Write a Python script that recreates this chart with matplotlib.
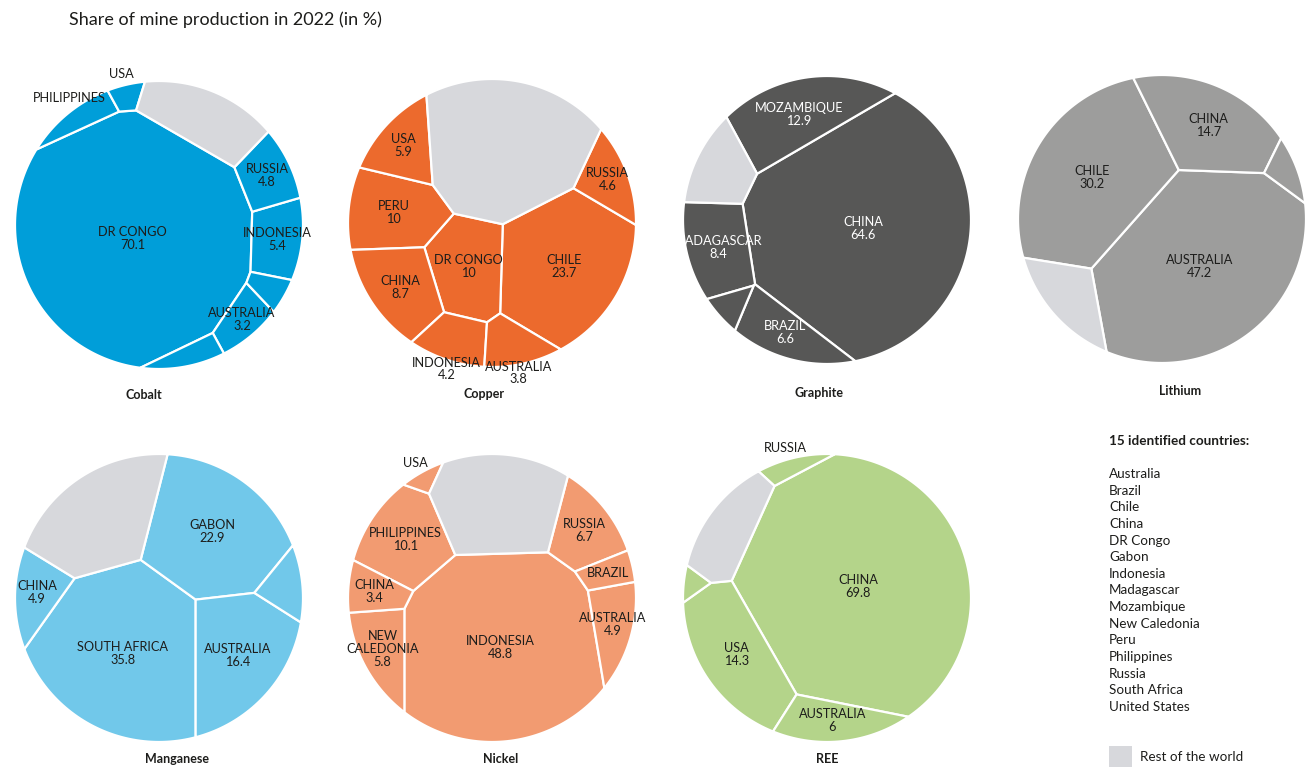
import numpy as np
import matplotlib.pyplot as plt
from matplotlib.patches import Polygon, Rectangle

plt.rcParams['font.family'] = ['Lato', 'DejaVu Sans']

# ---- data: share of 2022 mine production (%) ----
minerals = ['Cobalt', 'Copper', 'Graphite', 'Lithium', 'Manganese', 'Nickel', 'REE']

cobalt_countries = ['DR CONGO', 'INDONESIA', 'RUSSIA', 'AUSTRALIA', 'PHILIPPINES', 'USA', '', '', 'Rest of the world']
cobalt_shares = [70.1, 5.4, 4.8, 3.2, 2.4, 1.1, 1.5, 2.0, 9.5]

copper_countries = ['CHILE', 'DR CONGO', 'PERU', 'CHINA', 'USA', 'RUSSIA', 'INDONESIA', 'AUSTRALIA', 'Rest of the world']
copper_shares = [23.7, 10, 10, 8.7, 5.9, 4.6, 4.2, 3.8, 29.1]

graphite_countries = ['CHINA', 'MOZAMBIQUE', 'MADAGASCAR', 'BRAZIL', '', 'Rest of the world']
graphite_shares = [64.6, 12.9, 8.4, 6.6, 1.5, 6.0]

lithium_countries = ['AUSTRALIA', 'CHILE', 'CHINA', '', 'Rest of the world']
lithium_shares = [47.2, 30.2, 14.7, 1.8, 6.1]

manganese_countries = ['SOUTH AFRICA', 'GABON', 'AUSTRALIA', 'CHINA', '', 'Rest of the world']
manganese_shares = [35.8, 22.9, 16.4, 4.9, 3.0, 17.0]

nickel_countries = ['INDONESIA', 'PHILIPPINES', 'RUSSIA', 'NEW\nCALEDONIA', 'AUSTRALIA', 'CHINA', 'BRAZIL', 'USA', 'Rest of the world']
nickel_shares = [48.8, 10.1, 6.7, 5.8, 4.9, 3.4, 2.2, 0.8, 17.3]

ree_countries = ['CHINA', 'USA', 'AUSTRALIA', 'RUSSIA', '', 'Rest of the world']
ree_shares = [69.8, 14.3, 6, 1.5, 0.8, 7.6]

legend_countries = ['Australia', 'Brazil', 'Chile', 'China', 'DR Congo', 'Gabon', 'Indonesia', 'Madagascar',
                    'Mozambique', 'New Caledonia', 'Peru', 'Philippines', 'Russia', 'South Africa', 'United States']

# ---- layout: starting sites (unit circle), label modes, colours ----
cobalt_sites = [(-0.19, -0.10), (0.88, -0.13), (0.76, 0.28), (0.63, -0.65), (-0.57, 0.73), (-0.26, 0.90), (0.81, -0.48), (0.19, -0.89), (0.29, 0.73)]
copper_sites = [(0.47, -0.32), (-0.21, -0.30), (-0.69, 0.12), (-0.67, -0.44), (-0.58, 0.58), (0.80, 0.24), (-0.33, -0.81), (0.16, -0.84), (-0.01, 0.62)]
graphite_sites = [(0.30, -0.08), (-0.19, 0.76), (-0.80, -0.25), (-0.26, -0.81), (-0.69, -0.63), (-0.78, 0.44)]
lithium_sites = [(0.26, -0.46), (-0.53, 0.24), (0.30, 0.65), (0.87, 0.37), (-0.67, -0.63)]
manganese_sites = [(-0.17, -0.44), (0.46, 0.43), (0.56, -0.44), (-0.86, 0.05), (0.89, 0.08), (-0.48, 0.67)]
nickel_sites = [(0.03, -0.37), (-0.63, 0.40), (0.65, 0.50), (-0.78, -0.37), (0.86, -0.23), (-0.81, 0.05), (0.79, 0.15), (-0.46, 0.88), (0.0, 0.67)]
ree_sites = [(0.26, 0.01), (-0.58, -0.47), (0.08, -0.89), (-0.22, 0.92), (-0.95, 0.05), (-0.67, 0.43)]

# in = name+value inside, name = name only inside, out = name outside, out2 = name+value outside
cobalt_modes = ['in', 'in', 'in', 'in', 'out', 'out', '', '', '']
copper_modes = ['in', 'in', 'in', 'in', 'in', 'in', 'out2', 'out2', '']
graphite_modes = ['in', 'in', 'in', 'in', '', '']
lithium_modes = ['in', 'in', 'in', '', '']
manganese_modes = ['in', 'in', 'in', 'in', '', '']
nickel_modes = ['in', 'in', 'in', 'in', 'in', 'in', 'name', 'out', '']
ree_modes = ['in', 'in', 'in', 'out', '', '']

colors = ['#009ed9', '#ec6a2d', '#575756', '#9d9d9c', '#71c8ea', '#f29b71', '#b4d48a']
text_colors = ['#1d1d1b', '#1d1d1b', '#ffffff', '#1d1d1b', '#1d1d1b', '#1d1d1b', '#1d1d1b']
REST = '#d7d8dc'

centers = [(159, 225), (492, 223), (827, 220), (1162, 219), (159, 598), (492, 598), (827, 598)]
name_pos = [(144, 395), (484, 394), (819, 393), (1180, 391), (177, 759), (501, 759), (827, 759)]
R = 144
W, H = 1311, 767
LABEL_FS = 9.2


# ---- power-diagram (Voronoi treemap) inside a circle ----
def circle_poly(n=240):
    t = np.linspace(0, 2 * np.pi, n, endpoint=False)
    return np.column_stack([np.cos(t), np.sin(t)])


def clip(poly, a, b):
    # keep points p with a.p <= b
    if len(poly) == 0:
        return poly
    d = poly @ a - b
    ins = d <= 0
    if ins.all():
        return poly
    if not ins.any():
        return poly[:0]
    nxt = np.roll(poly, -1, axis=0)
    dn = np.roll(d, -1)
    cross = ins != np.roll(ins, -1)
    with np.errstate(divide='ignore', invalid='ignore'):
        t = np.where(cross, d / (d - dn), 0.0)
    ip = poly + t[:, None] * (nxt - poly)
    pts = np.stack([poly, ip], axis=1).reshape(-1, 2)
    keep = np.stack([ins, cross], axis=1).reshape(-1)
    return pts[keep]


def power_cells(sites, w, base):
    sq = (sites ** 2).sum(1) - w
    cells = []
    for i in range(len(sites)):
        poly = base
        for j in range(len(sites)):
            if i != j:
                poly = clip(poly, 2 * (sites[j] - sites[i]), sq[j] - sq[i])
                if len(poly) == 0:
                    break
        cells.append(poly)
    return cells


def area_centroid(poly):
    if len(poly) < 3:
        return 0.0, np.zeros(2)
    x, y = poly[:, 0], poly[:, 1]
    xn, yn = np.roll(x, -1), np.roll(y, -1)
    c = x * yn - xn * y
    a = c.sum() / 2
    if abs(a) < 1e-12:
        return 0.0, poly.mean(0)
    return a, np.array([((x + xn) * c).sum() / (6 * a), ((y + yn) * c).sum() / (6 * a)])


def treemap(values, sites, iters=400):
    base = circle_poly()
    total = area_centroid(base)[0]
    target = np.array(values, float) / sum(values) * total
    s = np.array(sites, float)
    w = np.zeros(len(s))
    for _ in range(iters):
        cells = power_cells(s, w, base)
        areas = np.array([area_centroid(c)[0] for c in cells])
        w += 0.2 * (target - areas)
    return power_cells(s, w, base)


fig = plt.figure(figsize=(W / 100, H / 100), dpi=100)

fig.text(69 / W, 1 - 20 / H, 'Share of mine production in 2022 (in %)', fontsize=13, color='#1d1d1b',
         ha='left', va='center')

all_countries = [cobalt_countries, copper_countries, graphite_countries, lithium_countries,
                 manganese_countries, nickel_countries, ree_countries]
all_shares = [cobalt_shares, copper_shares, graphite_shares, lithium_shares,
              manganese_shares, nickel_shares, ree_shares]
all_sites = [cobalt_sites, copper_sites, graphite_sites, lithium_sites,
             manganese_sites, nickel_sites, ree_sites]
all_modes = [cobalt_modes, copper_modes, graphite_modes, lithium_modes,
             manganese_modes, nickel_modes, ree_modes]

for k, mineral in enumerate(minerals):
    cx, cy = centers[k]
    ax = fig.add_axes([(cx - R) / W, 1 - (cy + R) / H, 2 * R / W, 2 * R / H])
    ax.set_xlim(-1, 1)
    ax.set_ylim(-1, 1)
    ax.axis('off')

    names, shares, modes = all_countries[k], all_shares[k], all_modes[k]
    cells = treemap(shares, all_sites[k])
    for name, val, mode, cell in zip(names, shares, modes, cells):
        fc = REST if name == 'Rest of the world' else colors[k]
        ax.add_patch(Polygon(cell, closed=True, fc=fc, ec='white', lw=1.6, joinstyle='round'))
        if not mode:
            continue
        c = area_centroid(cell)[1]
        if mode in ('in', 'name'):
            txt = name + ('\n%g' % val if mode == 'in' else '')
            ax.text(c[0], c[1], txt, ha='center', va='center', fontsize=LABEL_FS,
                    color=text_colors[k], linespacing=1.1)
        else:
            u = c / np.hypot(*c)
            rr = 1.06 if mode == 'out2' else 1.08
            txt = name + ('\n%g' % val if mode == 'out2' else '')
            ax.text(u[0] * rr, u[1] * rr, txt, ha='center', va='center', fontsize=LABEL_FS,
                    color='#1d1d1b', linespacing=1.0, clip_on=False)

    nx, ny = name_pos[k]
    fig.text(nx / W, 1 - ny / H, mineral, fontsize=9, fontweight='bold', color='#1d1d1b',
             ha='center', va='center')

# legend
fig.text(1109 / W, 1 - 441 / H, '15 identified countries:', fontsize=9.7, fontweight='bold',
         color='#1d1d1b', ha='left', va='center')
for i, c in enumerate(legend_countries):
    fig.text(1109 / W, 1 - (474 + i * 16.64) / H, c, fontsize=9.7, color='#1d1d1b', ha='left', va='center')
fig.patches.append(Rectangle((1109 / W, 1 - 767 / H), 23 / W, 21 / H, transform=fig.transFigure,
                             fc=REST, ec='none'))
fig.text(1140 / W, 1 - 757 / H, 'Rest of the world', fontsize=9.7, color='#1d1d1b', ha='left', va='center')

fig.savefig('out.png', dpi=100)
